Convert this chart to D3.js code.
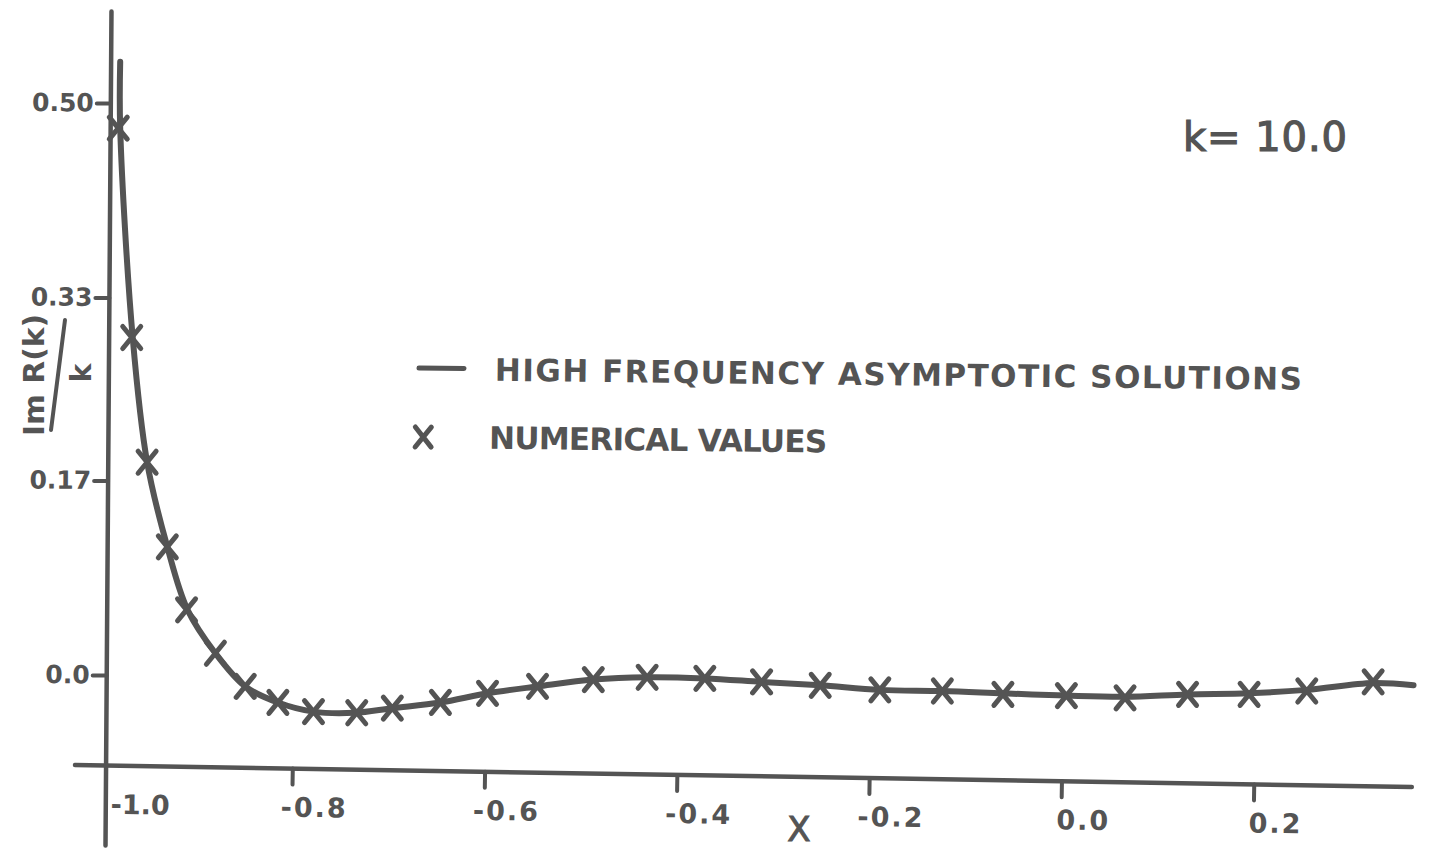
<!DOCTYPE html>
<html>
<head>
<meta charset="utf-8">
<script src="https://cdn.jsdelivr.net/npm/d3@7"></script>
<style>
  html, body { margin: 0; padding: 0; background: #fff; }
  svg { display: block; }
</style>
</head>
<body>
<svg id="chart" width="1429" height="850"></svg>
<script>
// Im R(k)/k plotted against x for k = 10.0

const xTicks = [-1.0, -0.8, -0.6, -0.4, -0.2, 0.0, 0.2];
const xTickLabels = ["-1.0", "-0.8", "-0.6", "-0.4", "-0.2", "0.0", "0.2"];
const yTicks = [0.0, 0.17, 0.33, 0.50];
const yTickLabels = ["0.0", "0.17", "0.33", "0.50"];

// High frequency asymptotic solution (solid line)
const asymX = [-0.979, -0.979, -0.966, -0.951, -0.930, -0.909, -0.880, -0.849, -0.815, -0.778,
               -0.735, -0.696, -0.646, -0.597, -0.545, -0.487, -0.431, -0.371, -0.312, -0.251,
               -0.189, -0.124, -0.061, 0.005, 0.066, 0.131, 0.195, 0.255, 0.324, 0.366];
const asymY = [0.536, 0.478, 0.295, 0.186, 0.112, 0.057, 0.019, -0.010, -0.024, -0.032,
               -0.033, -0.029, -0.024, -0.016, -0.010, -0.004, -0.002, -0.003, -0.006, -0.009,
               -0.013, -0.014, -0.016, -0.018, -0.019, -0.017, -0.016, -0.013, -0.007, -0.009];

// Numerical values (crosses)
const numX = [-0.981, -0.967, -0.951, -0.930, -0.910, -0.880, -0.849, -0.815, -0.778, -0.733,
              -0.696, -0.646, -0.597, -0.545, -0.487, -0.431, -0.371, -0.312, -0.251, -0.189,
              -0.124, -0.061, 0.005, 0.066, 0.131, 0.195, 0.255, 0.324];
const numY = [0.478, 0.295, 0.186, 0.112, 0.057, 0.019, -0.010, -0.024, -0.032, -0.033,
              -0.029, -0.024, -0.016, -0.010, -0.004, -0.002, -0.003, -0.006, -0.009, -0.013,
              -0.014, -0.017, -0.018, -0.020, -0.017, -0.017, -0.014, -0.006];

const ink = "#545454";
const letterFont = "'DejaVu Sans', 'Liberation Sans', sans-serif";

const svg = d3.select("#chart");
svg.append("rect").attr("width", 1429).attr("height", 850).attr("fill", "#ffffff");

const x = d3.scaleLinear().domain([-1.0, 0.2]).range([100, 1253.9]);
const y = d3.scaleLinear().domain([0, 0.5]).range([675, 103]);

// where the hand-ruled axes sit, in data units
const xAxisAt = -0.0787;   // y value of the horizontal axis
const yAxisAt = -0.993;    // x value of the vertical axis
const xAxisExtent = [-1.026, 0.3644];
const yAxisExtent = [-0.149, 0.58];

// ---- horizontal axis (ruled with a slight downward slant) ----
const xAxisG = svg.append("g")
  .attr("transform", `rotate(0.94, ${x(xAxisExtent[0])}, ${y(xAxisAt)}) translate(0, ${y(xAxisAt)})`);

xAxisG.call(
  d3.axisBottom(x)
    .tickValues(xTicks)
    .tickFormat((d, i) => xTickLabels[i])
    .tickSize(16)
    .tickPadding(13)
);
xAxisG.select(".domain").remove();
xAxisG.selectAll(".tick line")
  .attr("stroke", ink).attr("stroke-width", 4).attr("stroke-linecap", "round")
  .filter(d => d === -1.0).remove();
xAxisG.selectAll(".tick text")
  .attr("fill", ink)
  .attr("dx", 22)
  .style("font-family", letterFont)
  .style("font-weight", "bold")
  .style("font-size", "27px")
  .style("letter-spacing", "2px");
// the first label starts just clear of the vertical axis
xAxisG.selectAll(".tick text")
  .filter(d => d === -1.0)
  .attr("text-anchor", "start")
  .attr("dx", x(yAxisAt) - x(-1.0) + 4)
  .style("letter-spacing", "0px");
xAxisG.append("line")
  .attr("x1", x(xAxisExtent[0])).attr("x2", x(xAxisExtent[1]))
  .attr("y1", 0).attr("y2", 0)
  .attr("stroke", ink).attr("stroke-width", 4.5).attr("stroke-linecap", "round");

// ---- vertical axis ----
const yAxisG = svg.append("g")
  .attr("transform", `translate(${x(yAxisAt)}, 0) rotate(0.41, 0, ${y(0)})`);

yAxisG.call(
  d3.axisLeft(y)
    .tickValues(yTicks)
    .tickFormat((d, i) => yTickLabels[i])
    .tickSize(14)
    .tickPadding(3)
);
yAxisG.select(".domain").remove();
yAxisG.selectAll(".tick line")
  .attr("stroke", ink).attr("stroke-width", 4).attr("stroke-linecap", "round");
yAxisG.selectAll(".tick text")
  .attr("fill", ink)
  .style("font-family", letterFont)
  .style("font-weight", "bold")
  .style("font-size", "25px");
yAxisG.append("line")
  .attr("x1", 0).attr("x2", 0)
  .attr("y1", y(yAxisExtent[1])).attr("y2", y(yAxisExtent[0]))
  .attr("stroke", ink).attr("stroke-width", 4.5).attr("stroke-linecap", "round");

// ---- asymptotic solution curve ----
const line = d3.line()
  .x(i => x(asymX[i]))
  .y(i => y(asymY[i]))
  .curve(d3.curveCatmullRom.alpha(0.5));

svg.append("path")
  .attr("d", line(d3.range(asymX.length)))
  .attr("fill", "none")
  .attr("stroke", ink)
  .attr("stroke-width", 6)
  .attr("stroke-linejoin", "round")
  .attr("stroke-linecap", "round");

// ---- numerical values as crosses ----
function crossPath(hw, hh) {
  return `M${-hw},${-hh}L${hw},${hh}M${hw},${-hh}L${-hw},${hh}`;
}

svg.append("g").selectAll("path")
  .data(d3.range(numX.length))
  .join("path")
  .attr("transform", i => `translate(${x(numX[i])}, ${y(numY[i])})`)
  .attr("d", crossPath(9, 11))
  .attr("fill", "none")
  .attr("stroke", ink)
  .attr("stroke-width", 5)
  .attr("stroke-linecap", "round");

// ---- legend ----
const legend = svg.append("g").attr("transform", "rotate(0.64, 418, 368)");
legend.append("line")
  .attr("x1", 419).attr("x2", 464).attr("y1", 368).attr("y2", 368)
  .attr("stroke", ink).attr("stroke-width", 5).attr("stroke-linecap", "round");
legend.append("text")
  .attr("x", 495).attr("y", 380)
  .attr("textLength", 807).attr("lengthAdjust", "spacing")
  .attr("fill", ink)
  .style("font-family", letterFont).style("font-weight", "bold").style("font-size", "31px")
  .text("HIGH FREQUENCY ASYMPTOTIC SOLUTIONS");
legend.append("path")
  .attr("transform", "translate(424, 437)")
  .attr("d", crossPath(8, 10))
  .attr("fill", "none").attr("stroke", ink).attr("stroke-width", 5).attr("stroke-linecap", "round");
legend.append("text")
  .attr("x", 490).attr("y", 448)
  .attr("textLength", 338).attr("lengthAdjust", "spacing")
  .attr("fill", ink)
  .style("font-family", letterFont).style("font-weight", "bold").style("font-size", "31px")
  .text("NUMERICAL VALUES");

// ---- parameter label ----
svg.append("text")
  .attr("x", 1183).attr("y", 151)
  .attr("textLength", 164).attr("lengthAdjust", "spacing")
  .attr("fill", ink)
  .attr("stroke", ink).attr("stroke-width", 1.2)
  .style("font-family", letterFont).style("font-size", "40px")
  .text("k= 10.0");

// ---- axis titles ----
svg.append("text")
  .attr("x", 799).attr("y", 841)
  .attr("text-anchor", "middle")
  .attr("fill", ink)
  .attr("stroke", ink).attr("stroke-width", 1)
  .style("font-family", letterFont).style("font-size", "34px")
  .text("X");

const yTitle = svg.append("g").attr("transform", "translate(55, 375) rotate(-90)");
yTitle.append("text")
  .attr("x", 0).attr("y", -11)
  .attr("text-anchor", "middle")
  .attr("textLength", 122).attr("lengthAdjust", "spacingAndGlyphs")
  .attr("fill", ink)
  .style("font-family", letterFont).style("font-weight", "bold").style("font-size", "28px")
  .text("Im R(k)");
yTitle.append("line")
  .attr("x1", -55).attr("y1", -4).attr("x2", 55).attr("y2", 10)
  .attr("stroke", ink).attr("stroke-width", 4).attr("stroke-linecap", "round");
yTitle.append("text")
  .attr("x", 2).attr("y", 36)
  .attr("text-anchor", "middle")
  .attr("fill", ink)
  .style("font-family", letterFont).style("font-weight", "bold").style("font-size", "28px")
  .text("k");
</script>
</body>
</html>
